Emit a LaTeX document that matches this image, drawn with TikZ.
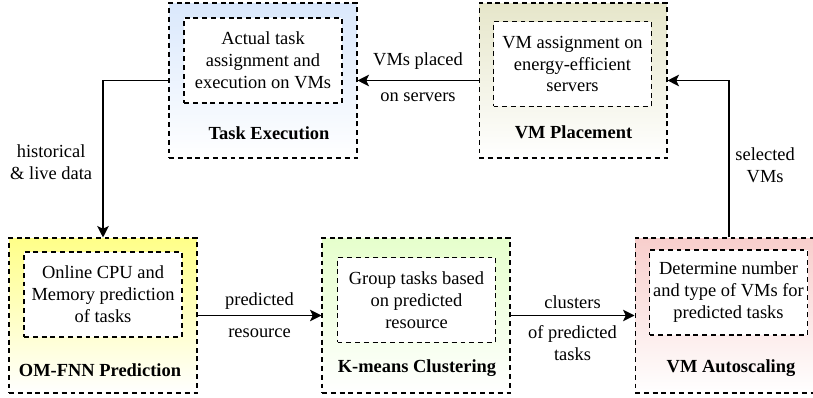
\documentclass[tikz,border=0pt]{standalone}
\usepackage{fontspec}
\setmainfont{Liberation Serif}
\usetikzlibrary{arrows.meta}

\definecolor{execblue}{HTML}{DAE8FC}
\definecolor{placeolive}{HTML}{E6E6CA}
\definecolor{predyellow}{HTML}{FFFF88}
\definecolor{clustgreen}{HTML}{E6FFCC}
\definecolor{scalered}{HTML}{F8CECC}

\begin{document}
\begin{tikzpicture}[x=0.02cm, y=-0.02cm,
  every node/.style={font=\fontsize{10.5}{12.5}\selectfont},
  stage/.style={draw, dash pattern=on 2.8pt off 2.2pt, line width=0.6pt,
    minimum width=3.76cm, minimum height=3.1cm, inner sep=0pt,
    bottom color=white, top color=#1},
  task/.style={draw, fill=white, dash pattern=on 2.8pt off 2.2pt, line width=0.6pt,
    minimum width=3.16cm, minimum height=1.7cm, inner sep=1pt, align=center},
  title/.style={font=\fontsize{10.5}{12.5}\selectfont\bfseries},
  flow/.style={line width=0.7pt, -{Stealth[length=6.5pt, width=6.5pt, inset=1.5pt]}},
  lbl/.style={align=center}]

  \useasboundingbox (0,0) rectangle (813,398);

  \node[stage=execblue] (exec) at (263,80.5) {};
  \node[task] (exec-in) at (263,60.5) {Actual task\\assignment and\\execution on VMs};
  \node[title] (exec-lbl) at (269,133) {Task Execution};

  \node[stage=placeolive] (place) at (573,80.5) {};
  \node[task] (place-in) at (572.5,64) {VM assignment on\\energy-efficient\\servers};
  \node[title] (place-lbl) at (573.5,132) {VM Placement};

  \node[stage=predyellow] (pred) at (103,315.5) {};
  \node[task] (pred-in) at (103,294.5) {Online CPU and\\Memory prediction\\of tasks};
  \node[title] (pred-lbl) at (100,370) {OM-FNN Prediction};

  \node[stage=clustgreen] (clust) at (416,315.5) {};
  \node[task] (clust-in) at (416.5,300) {Group tasks based\\on predicted\\resource};
  \node[title] (clust-lbl) at (417,368) {K-means Clustering};

  \node[stage=scalered] (autoscale) at (729,315.5) {};
  \node[task] (autoscale-in) at (728.5,292.5) {Determine number\\and type of VMs for\\predicted tasks};
  \node[title] (autoscale-lbl) at (731,368) {VM Autoscaling};

  \draw[flow] (exec.west) -| node[pos=0.76, left=2.5pt, lbl] {historical\\\& live data} (pred.north);
  \draw[flow] (pred.east) -- node[above, lbl] {predicted} node[below=4pt, lbl] {resource} (clust.west);
  \draw[flow] (clust.east) -- node[above, lbl] {clusters} node[below=2pt, lbl] {of predicted\\tasks} (autoscale.west);
  \draw[flow] (autoscale.north) |- node[pos=0.23, right, lbl] {selected\\VMs} (place.east);
  \draw[flow] (place.west) -- node[above=2.5pt, lbl] {VMs placed} node[below=3.5pt, lbl] {on servers} (exec.east);
\end{tikzpicture}
\end{document}
